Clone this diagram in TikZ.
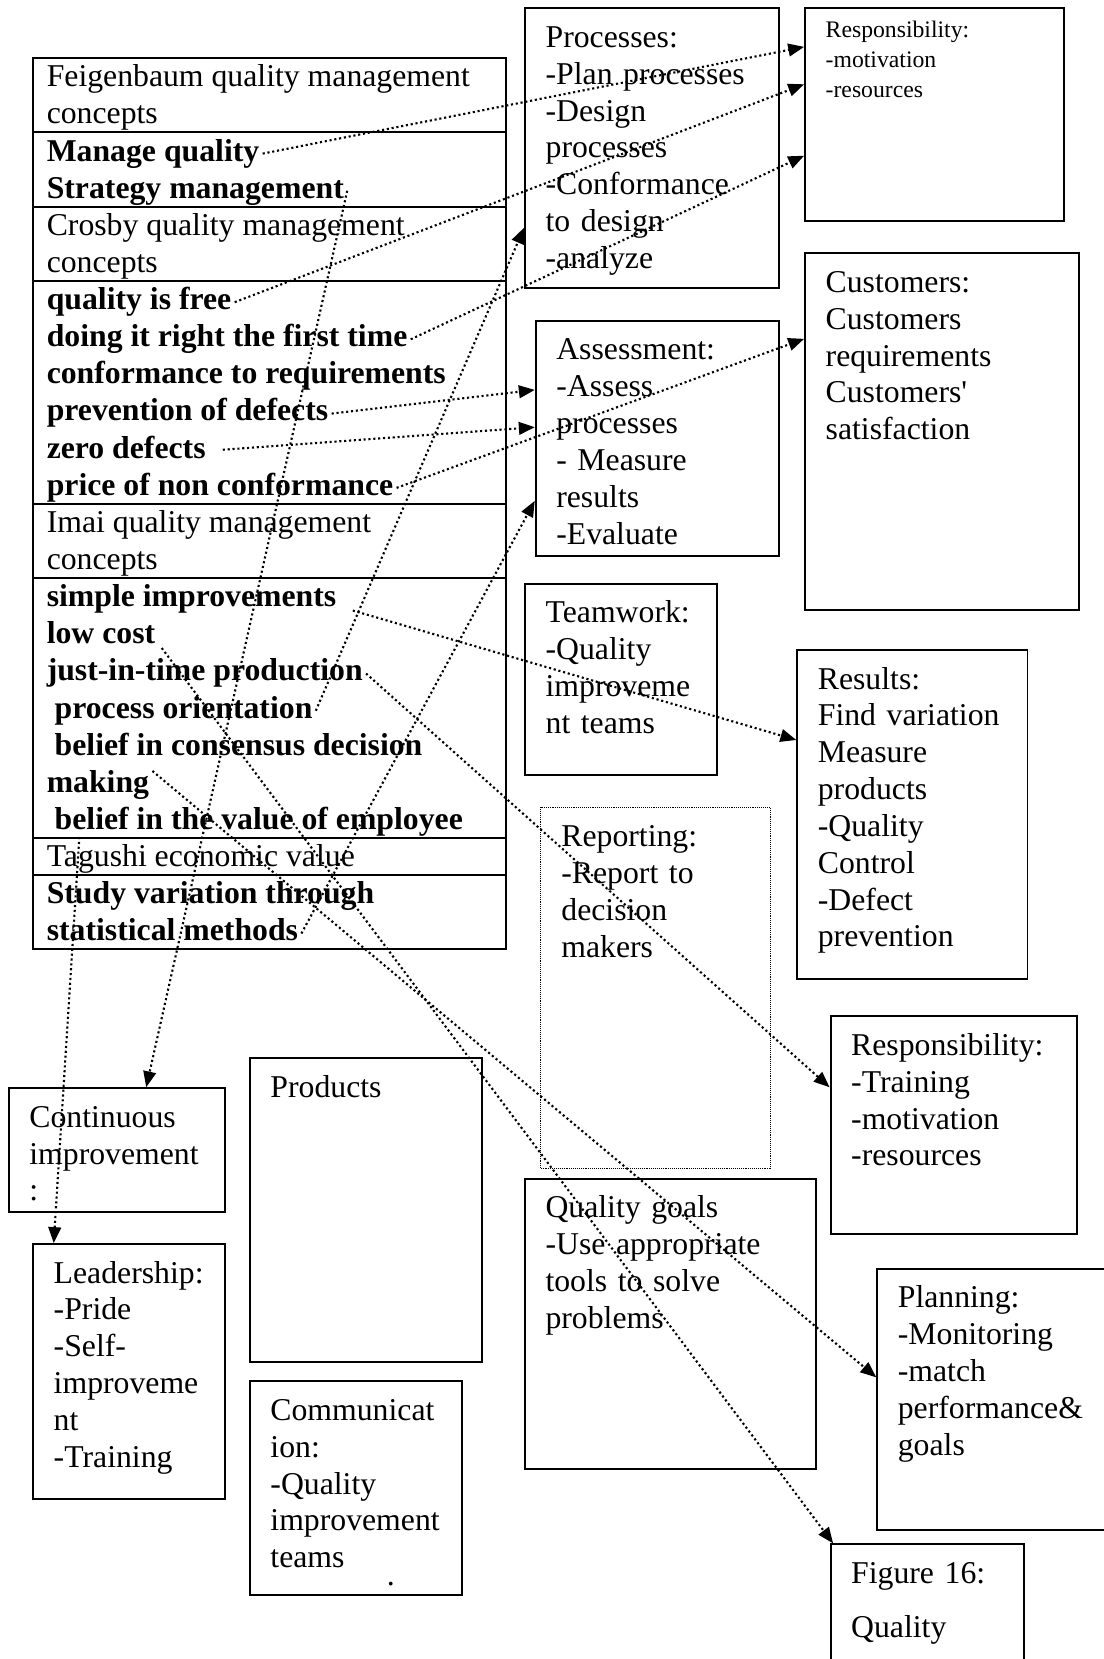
\documentclass[tikz,border=0pt]{standalone}
\usepackage{fontspec}
\setmainfont{Liberation Serif}
\usetikzlibrary{arrows.meta,calc}

\begin{document}
\begin{tikzpicture}[x=1pt, y=-1pt,
    panel/.style={draw, line width=1.8pt, anchor=north west, align=left, inner xsep=19.5pt, inner ysep=12.7pt, text height=24.3pt, font=\fontsize{30}{34.8}\selectfont},
    tablerow/.style={draw, line width=1.8pt, anchor=north west, minimum width=447pt, inner sep=0pt},
    entry/.style={anchor=base west, inner xsep=3pt, inner ysep=0pt, text height=20pt, text depth=6pt, font=\fontsize{30}{35.1}\selectfont\bfseries},
    heading/.style={entry, font=\fontsize{30}{35.1}\selectfont},
    link/.style={line width=2pt, dash pattern=on 2pt off 2.6pt, -{Triangle[length=15pt,width=12pt]}}
]
\useasboundingbox (0,0) rectangle (1043,1568);

% concepts table
\node[tablerow, minimum height=70.2pt] (feigrow) at (30,54) {};
\node[tablerow, minimum height=70.2pt] (feigitems) at (30,124.2) {};
\node[tablerow, minimum height=70.2pt] (crosbyrow) at (30,194.4) {};
\node[tablerow, minimum height=210.6pt] (crosbyitems) at (30,264.6) {};
\node[tablerow, minimum height=70.2pt] (imairow) at (30,475.2) {};
\node[tablerow, minimum height=245.7pt] (imaiitems) at (30,545.4) {};
\node[tablerow, minimum height=35.1pt] (tagrow) at (30,791.1) {};
\node[tablerow, minimum height=70.2pt] (tagitems) at (30,826.2) {};

\node[heading] (feig1) at (41,82) {Feigenbaum quality management};
\node[heading] (feig2) at (41,117.1) {concepts};
\node[entry] (manage) at (41,152.2) {Manage quality};
\node[entry] (strategy) at (41,187.3) {Strategy management};
\node[heading] (crosby1) at (41,222.4) {Crosby quality management};
\node[heading] (crosby2) at (41,257.5) {concepts};
\node[entry] (free) at (41,292.6) {quality is free};
\node[entry] (right) at (41,327.7) {doing it right the first time};
\node[entry] (conform) at (41,362.8) {conformance to requirements};
\node[entry] (prevent) at (41,397.9) {prevention of defects};
\node[entry] (zero) at (41,433) {zero defects};
\node[entry] (price) at (41,468.1) {price of non conformance};
\node[heading] (imai1) at (41,503.2) {Imai quality management};
\node[heading] (imai2) at (41,538.3) {concepts};
\node[entry] (simple) at (41,573.4) {simple improvements};
\node[entry] (lowcost) at (41,608.5) {low cost};
\node[entry] (jit) at (41,643.6) {just-in-time production};
\node[entry] (orient) at (41,678.7) {\ process orientation};
\node[entry] (consensus) at (41,713.8) {\ belief in consensus decision};
\node[entry] (making) at (41,748.9) {making};
\node[entry] (employee) at (41,784) {\ belief in the value of employee};
\node[heading] (tagushi) at (41,819.1) {Tagushi economic value};
\node[entry] (study) at (41,854.2) {Study variation through};
\node[entry] (statistical) at (41,889.3) {statistical methods};

% boxes
\node[panel, text width=201pt, text depth=214.3pt] (proc) at (495.3,6.9) {Processes:\\-Plan processes\\-Design\\processes\\-Conformance\\to design\\-analyze};
\node[panel, text width=205.5pt, text height=14.9pt, text depth=161.2pt, font=\fontsize{22.4}{28.3}\selectfont] (resp1) at (760,6.9) {Responsibility:\\-motivation\\-resources};
\node[panel, text width=220pt, text depth=287.8pt] (cust) at (760,238.5) {Customers:\\Customers\\requirements\\Customers\textquotesingle\\satisfaction};
\node[panel, text width=191pt, text depth=173pt] (assess) at (505.4,302.3) {Assessment:\\-Assess\\processes\\- Measure\\results\\-Evaluate};
\node[panel, text width=142.7pt, text depth=131.5pt] (team) at (495.3,550.8) {Teamwork:\\-Quality\\improveme\\nt teams};
\node[panel, text width=178.6pt, text depth=261.2pt] (results) at (752.6,613.4) {Results:\\Find variation\\Measure\\products\\-Quality\\Control\\-Defect\\prevention};
\node[panel, line width=0.8pt, densely dotted, text width=177.7pt, text depth=291.1pt] (report) at (510.7,762.7) {Reporting:\\-Report to\\decision\\makers};
\node[panel, text width=194.1pt, text depth=155.9pt] (resp2) at (784.1,959.6) {Responsibility:\\-Training\\-motivation\\-resources};
\node[panel, text width=235.8pt, text depth=224.3pt] (goals) at (495.2,1113.2) {Quality goals\\-Use appropriate\\tools to solve\\problems};
\node[panel, text width=201pt, text depth=197.5pt] (plan) at (828.2,1198.2) {Planning:\\-Monitoring\\-match\\performance\&\\goals};
\node[panel, text width=143.5pt, text depth=100.3pt, font=\fontsize{30}{51.5}\selectfont] (fig) at (784.1,1458.7) {Figure 16:\\Quality};
\node[panel, text width=165.5pt, text depth=67.7pt] (cont) at (7.4,1027.6) {Continuous\\improvement\\:};
\node[panel, text width=142.6pt, text depth=191.5pt] (lead) at (30.4,1174.8) {Leadership:\\-Pride\\-Self-\\improveme\\nt\\-Training};
\node[panel, text width=180.6pt, text depth=237.1pt] (prod) at (235.2,999.2) {Products};
\node[panel, text width=161.7pt, text depth=152.5pt] (comm) at (235.2,1304.6) {Communicat\\ion:\\-Quality\\improvement\\teams\\[-18.1pt]\hspace*{110pt}.};

% links
\draw[link] (manage.east) -- ($(resp1.north west)!0.184!(resp1.south west)$);
\draw[link] (free.east) -- ($(resp1.north west)!0.358!(resp1.south west)$);
\draw[link] (right.east) -- ($(resp1.north west)!0.69!(resp1.south west)$);
\draw[link] (prevent.east) -- ($(assess.north west)!0.295!(assess.south west)$);
\draw[link, shorten <=13pt] (zero.east) -- ($(assess.north west)!0.452!(assess.south west)$);
\draw[link] (price.east) -- ($(cust.north west)!0.241!(cust.south west)$);
\draw[link] (statistical.east) -- ($(assess.north west)!0.762!(assess.south west)$);
\draw[link] (orient.east) -- ($(proc.north west)!0.784!(proc.south west)$);
\draw[link] (strategy.east) -- ($(cont.north west)!0.634!(cont.north east)$);
\draw[link] ([xshift=45pt]tagrow.north west) -- ($(lead.north west)!0.111!(lead.north east)$);
\draw[link, shorten <=13pt] (simple.base east) -- ($(results.north west)!0.275!(results.south west)$);
\draw[link] (jit.east) -- ($(resp2.north west)!0.328!(resp2.south west)$);
\draw[link] (making.north east) -- ($(plan.north west)!0.416!(plan.south west)$);
\draw[link, shorten <=5pt] (lowcost.base east) -- ($(fig.north west)!0.018!(fig.north east)$);
\end{tikzpicture}
\end{document}
